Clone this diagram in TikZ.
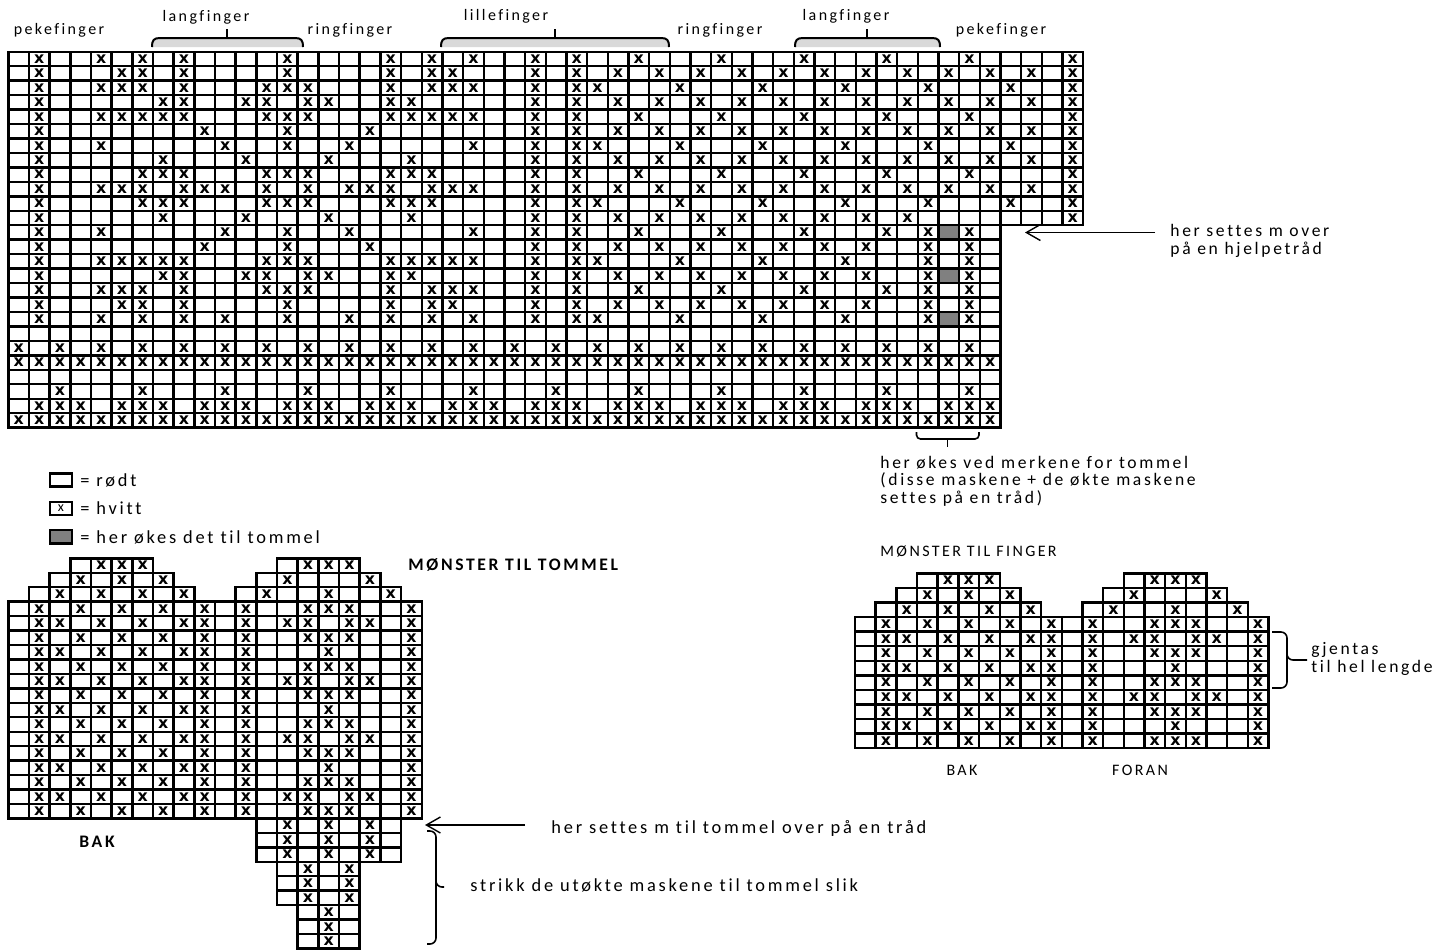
\documentclass[tikz,border=0pt]{standalone}
\usepackage{fontspec}
\setmainfont{Carlito}
\newfontfamily\sperret[LetterSpace=15,Ligatures={NoCommon}]{Carlito}
\newfontfamily\kryssfont{DejaVu Sans}
\usetikzlibrary{arrows.meta}

\definecolor{tommelgraa}{RGB}{128,128,128}
\definecolor{klammegraa}{RGB}{217,217,217}

% rader i tommel- og fingermonsteret, #1 = siste hele rad
\newcommand{\hanskerader}[1]{%
  \foreach \r/\a/\b in {0/3/6,1/2/7,2/1/8}
    \foreach \c in {\a,...,\b} {
      \draw[rute] (\c,\r) rectangle ++(1,1);
      \draw[rute] (\c+10,\r) rectangle ++(1,1);
    }
  \foreach \r in {3,...,#1}
    \foreach \c in {0,...,19}
      \draw[rute] (\c,\r) rectangle ++(1,1);
  \foreach \r/\xs in {
    0/{4,5,6,14,15,16},
    1/{3,5,7,13,17},
    2/{2,4,6,8,12,15,18},
    3/{1,3,5,7,9,11,14,15,16,19},
    4/{1,2,4,6,8,9,11,13,14,16,17,19},
    5/{1,3,5,7,9,11,14,15,16,19},
    6/{1,2,4,6,8,9,11,15,19},
    7/{1,3,5,7,9,11,14,15,16,19},
    8/{1,2,4,6,8,9,11,13,14,16,17,19},
    9/{1,3,5,7,9,11,14,15,16,19},
    10/{1,2,4,6,8,9,11,15,19},
    11/{1,3,5,7,9,11,14,15,16,19},
    12/{1,2,4,6,8,9,11,13,14,16,17,19},
    13/{1,3,5,7,9,11,14,15,16,19},
    14/{1,2,4,6,8,9,11,15,19},
    15/{1,3,5,7,9,11,14,15,16,19},
    16/{1,2,4,6,8,9,11,13,14,16,17,19},
    17/{1,3,5,7,9,11,14,15,16,19}}
    {\ifnum\r>#1\else
      \foreach \c in \xs \node[kryss] at (\c+0.5,\r+0.5) {x};
    \fi}
}

\begin{document}
\begin{tikzpicture}[x=0.5pt, y=-0.5pt,
  rute/.style={draw=black, line width=1.2pt},
  linje/.style={black, line width=1.2pt, line cap=rect},
  kryss/.style={font=\kryssfont\bfseries\fontsize{7.9}{7.9}\selectfont, inner sep=0pt},
  tekst/.style={font=\sperret\fontsize{9.2}{9}\selectfont, inner sep=0pt, align=left},
  smaltekst/.style={tekst, font=\sperret\fontsize{8.8}{8.8}\selectfont},
  fingernavn/.style={tekst, font=\sperret\fontsize{8}{8}\selectfont},
  overskrift/.style={tekst, font=\sperret\bfseries\fontsize{8.8}{8.8}\selectfont},
  legendrute/.style={rute, minimum width=10.8pt, minimum height=6.6pt, inner sep=0pt,
    font=\fontsize{7}{7}\selectfont},
  pil/.style={-{Straight Barb[length=7pt,width=8pt]}, line width=0.7pt},
  klammer/.style={black, line width=0.8pt},
  klamme/.style={fill=klammegraa, draw=black, line width=1pt},
]
\useasboundingbox (0,0) rectangle (1440,950);

% fingrene
\foreach \a/\m/\b in {152/227/303, 441/555/669, 795/867/940} {
  \filldraw[klamme] (\a,47) .. controls (\a,40) and (\a+2,38) .. (\a+8,38)
    -- (\b-8,38) .. controls (\b-2,38) and (\b,40) .. (\b,47);
  \draw[klammer, line width=1.4pt] (\m,38) -- (\m,29);
}
\node[fingernavn] (peke1) at (59,30) {pekefinger};
\node[fingernavn] (lang1) at (206,17) {langfinger};
\node[fingernavn] (ring1) at (350,30) {ringfinger};
\node[fingernavn] (lille) at (506,16) {lillefinger};
\node[fingernavn] (ring2) at (720,30) {ringfinger};
\node[fingernavn] (lang2) at (846,16) {langfinger};
\node[fingernavn] (peke2) at (1001,30) {pekefinger};

% hovedmonsteret
\begin{scope}[shift={(4.15pt,-25.85pt)}, x=10.335pt, y=-7.23pt]
  \foreach \r in {12,15,18} \fill[tommelgraa] (45,\r) rectangle ++(1,1);
  \foreach \r in {0,...,12} \draw[linje] (0,\r) -- (52,\r);
  \foreach \r in {13,...,26} \draw[linje] (0,\r) -- (48,\r);
  \foreach \c in {0,...,48} \draw[linje] (\c,0) -- (\c,26);
  \foreach \c in {49,...,52} \draw[linje] (\c,0) -- (\c,12);
  \foreach \r/\xs in {
    0/{1,4,6,8,13,18,20,22,25,27,30,34,38,42,46,51},
    1/{1,5,6,8,13,18,20,21,25,27,29,31,33,35,37,39,41,43,45,47,49,51},
    2/{1,4,5,6,8,12,13,14,18,20,21,22,25,27,28,32,36,40,44,48,51},
    3/{1,7,8,11,12,14,15,18,19,25,27,29,31,33,35,37,39,41,43,45,47,49,51},
    4/{1,4,5,6,7,8,12,13,14,18,19,20,21,22,25,27,30,34,38,42,46,51},
    5/{1,9,13,17,25,27,29,31,33,35,37,39,41,43,45,47,49,51},
    6/{1,4,10,13,16,22,25,27,28,32,36,40,44,48,51},
    7/{1,7,11,15,19,25,27,29,31,33,35,37,39,41,43,45,47,49,51},
    8/{1,6,7,8,12,13,14,18,19,20,25,27,30,34,38,42,46,51},
    9/{1,4,5,6,8,9,10,12,14,16,17,18,20,21,22,25,27,29,31,33,35,37,39,41,43,45,47,49,51},
    10/{1,6,7,8,12,13,14,18,19,20,25,27,28,32,36,40,44,48,51},
    11/{1,7,11,15,19,25,27,29,31,33,35,37,39,41,43,51},
    12/{1,4,10,13,16,22,25,27,30,34,38,42,44,46},
    13/{1,9,13,17,25,27,29,31,33,35,37,39,41,44,46},
    14/{1,4,5,6,7,8,12,13,14,18,19,20,21,22,25,27,28,32,36,40,44,46},
    15/{1,7,8,11,12,14,15,18,19,25,27,29,31,33,35,37,39,41,44,46},
    16/{1,4,5,6,8,12,13,14,18,20,21,22,25,27,30,34,38,42,44,46},
    17/{1,5,6,8,13,18,20,21,25,27,29,31,33,35,37,39,41,44,46},
    18/{1,4,6,8,10,13,16,18,20,22,25,27,28,32,36,40,44,46}}
    {\foreach \c in \xs \node[kryss] at (\c+0.5,\r+0.5) {x};}
  % bord nederst
  \foreach \c in {0,2,...,46} \node[kryss] at (\c+0.5,20.5) {x};
  \foreach \c in {0,...,47} \node[kryss] at (\c+0.5,21.5) {x};
  \foreach \c in {2,6,...,46} \node[kryss] at (\c+0.5,23.5) {x};
  \foreach \c in {0,4,...,44}
    \foreach \d in {1,2,3} \node[kryss] at (\c+\d+0.5,24.5) {x};
  \foreach \c in {0,...,47} \node[kryss] at (\c+0.5,25.5) {x};
\end{scope}

\coordinate (hjelpestart) at (1155,232.5);
\coordinate (hjelpespiss) at (1025,232.5);
\draw[pil] (hjelpestart) -- (hjelpespiss);
\node[smaltekst, anchor=west] (hjelpetekst) at (1170,241) {her settes m over\\på en hjelpetråd};

\draw[klammer, rounded corners=2pt] (916.5,432) -- (916.5,439) -- (979,439) -- (979,432);
\draw[klammer] (947.5,439) -- (947.5,447);
\node[smaltekst, anchor=west] (okestekst) at (880,481)
  {her økes ved merkene for tommel\\(disse maskene + de økte maskene\\settes på en tråd)};

% forklaring
\node[legendrute] (rodtrute) at (61,480) {};
\node[legendrute] (hvittrute) at (61,508.3) {x};
\node[legendrute, fill=tommelgraa] (graarute) at (61,536.7) {};
\node[tekst, anchor=west] (rodt) at (80,480) {= rødt};
\node[tekst, anchor=west] (hvitt) at (80,508) {= hvitt};
\node[tekst, anchor=west] (graa) at (80,537) {= her økes det til tommel};

% tommel
\node[overskrift, anchor=west] (tommeltittel) at (408,565) {MØNSTER TIL TOMMEL};
\begin{scope}[shift={(4.15pt,-279.15pt)}, x=10.335pt, y=-7.225pt]
  \hanskerader{17}
  \foreach \r/\a/\b in {18/12/18,19/12/18,20/12/18,21/13/16,22/13/16,23/13/16,
      24/14/16,25/14/16,26/14/16}
    \foreach \c in {\a,...,\b} \draw[rute] (\c,\r) rectangle ++(1,1);
  \foreach \r/\xs in {18/{13,15,17},19/{13,15,17},20/{13,15,17},21/{14,16},
      22/{14,16},23/{14,16},24/{15},25/{15},26/{15}}
    {\foreach \c in \xs \node[kryss] at (\c+0.5,\r+0.5) {x};}
\end{scope}
\node[overskrift] (bak1) at (97,842) {BAK};

\coordinate (tommelstart) at (525,825);
\coordinate (tommelspiss) at (425,825);
\draw[pil] (tommelstart) -- (tommelspiss);
\node[tekst, anchor=west] (tommeltekst) at (551,828) {her settes m til tommel over på en tråd};
\draw[klammer, rounded corners=3pt] (427,831) -- (436,831) -- (436,887) -- (444,887);
\draw[klammer, rounded corners=3pt] (436,880) -- (436,944) -- (427,944);
\node[tekst, anchor=west] (striktekst) at (470,885) {strikk de utøkte maskene til tommel slik};

% finger
\node[fingernavn, anchor=west] (fingertittel) at (880,552) {MØNSTER TIL FINGER};
\begin{scope}[shift={(427.5pt,-286.65pt)}, x=10.335pt, y=-7.29pt]
  \hanskerader{11}
\end{scope}
\node[fingernavn] (bak2) at (962,770) {BAK};
\node[fingernavn] (foran) at (1140,770) {FORAN};
\draw[klammer, rounded corners=3pt] (1272,632) -- (1287,632) -- (1287,660) -- (1307,660);
\draw[klammer, rounded corners=3pt] (1287,652) -- (1287,688) -- (1272,688);
\node[smaltekst, anchor=west] (gjentas) at (1311,659) {gjentas\\til hel lengde};
\end{tikzpicture}
\end{document}
